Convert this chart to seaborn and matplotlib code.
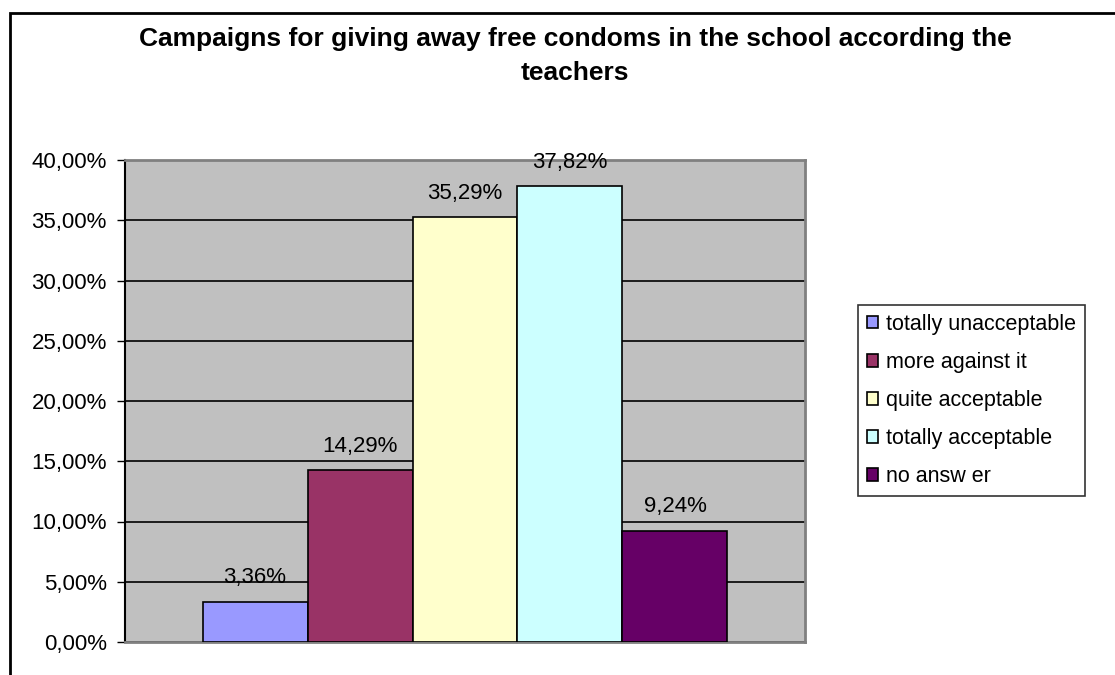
import matplotlib
matplotlib.use("Agg")
import matplotlib.pyplot as plt
from matplotlib.patches import Rectangle
from matplotlib.ticker import FuncFormatter, MultipleLocator
import seaborn as sns
import pandas as pd

categories = ["totally unacceptable", "more against it", "quite acceptable",
              "totally acceptable", "no answer"]
legend_labels = ["totally unacceptable", "more against it", "quite acceptable",
                 "totally acceptable", "no answ er"]
values = [3.36, 14.29, 35.29, 37.82, 9.24]
colors = ["#9999FF", "#993366", "#FFFFCC", "#CCFFFF", "#660066"]
title = "Campaigns for giving away free condoms in the school according the\nteachers"

sns.set_theme(style="white")
plt.rcParams["font.family"] = ["Liberation Sans", "DejaVu Sans"]

df = pd.DataFrame({"group": [""] * len(values), "answer": categories, "value": values})

fig = plt.figure(figsize=(11.15, 6.75), dpi=100)
fig.patch.set_facecolor("white")

# chart frame
fig.add_artist(Rectangle((10 / 1115, -0.05), 1.2, 1 - 13 / 675 + 0.05,
                         transform=fig.transFigure, fill=False,
                         edgecolor="black", linewidth=2))

ax = fig.add_axes([125 / 1115, 1 - 642 / 675, 680 / 1115, 482 / 675])
ax.set_facecolor("#C0C0C0")

sns.barplot(data=df, x="group", y="value", hue="answer", hue_order=categories,
            palette=colors, width=0.772, saturation=1, edgecolor="black",
            linewidth=1.2, legend=False, ax=ax, zorder=3)

ax.set_ylim(0, 40)
ax.set_xlim(-0.5, 0.5)
ax.yaxis.set_major_locator(MultipleLocator(5))
ax.yaxis.set_major_formatter(FuncFormatter(lambda v, p: f"{v:.2f}%".replace(".", ",")))
ax.grid(axis="y", color="black", linewidth=1.2, zorder=1)
ax.set_axisbelow(True)
ax.set_xticks([])
ax.set_xlabel("")
ax.set_ylabel("")
ax.tick_params(axis="y", direction="out", length=6, width=1, color="black",
               labelsize=16, pad=7, left=True)
for lab in ax.get_yticklabels():
    lab.set_color("black")

for side in ["top", "right", "bottom"]:
    ax.spines[side].set_color("#808080")
    ax.spines[side].set_linewidth(2)
ax.spines["left"].set_color("black")
ax.spines["left"].set_linewidth(1.5)

# value labels above bars
for patch, v in zip(ax.patches, values):
    x = patch.get_x() + patch.get_width() / 2
    ax.annotate(f"{v:.2f}%".replace(".", ","), (x, patch.get_height()),
                xytext=(0, 9.5), textcoords="offset points",
                ha="center", va="bottom", fontsize=16, color="black",
                annotation_clip=False, zorder=5)

fig.text(575 / 1115, 1 - 27 / 675, title, ha="center", va="top",
         fontsize=19, fontweight="bold", linespacing=1.5, color="black")

handles = [Rectangle((0, 0), 1, 1, facecolor=c, edgecolor="black", linewidth=1.2)
           for c in colors]
leg = fig.legend(handles, legend_labels, loc="upper left",
                 bbox_to_anchor=(858 / 1115, 1 - 305 / 675),
                 frameon=True, fancybox=False, fontsize=15.5,
                 handlelength=0.55, handleheight=0.55, handletextpad=0.35,
                 labelspacing=0.8, borderpad=0.4, borderaxespad=0)
leg.get_frame().set_edgecolor("black")
leg.get_frame().set_linewidth(1.2)
for t in leg.get_texts():
    t.set_color("black")

fig.savefig("out.png", dpi=100, facecolor="white")
